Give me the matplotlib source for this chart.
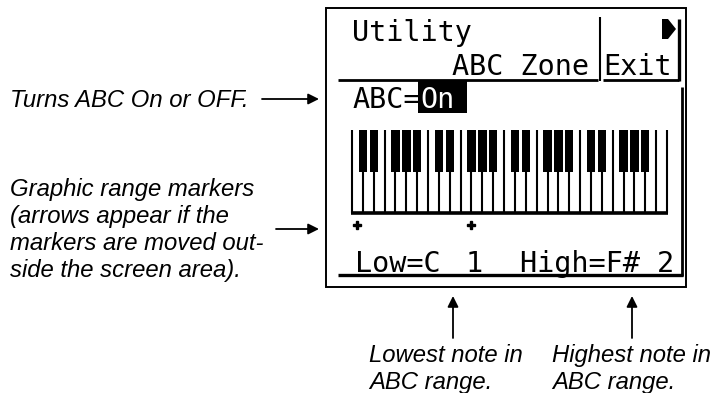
import matplotlib.pyplot as plt
from matplotlib.patches import Rectangle, Polygon

W, H = 717, 393

# LCD content
HEADER_TITLE = "Utility"
HEADER_PAGE = "ABC Zone"
SOFT_KEY = "Exit"
ABC_LABEL = "ABC="
ABC_STATE = "On"

# keyboard: 4 octaves plus a top C
WHITE_NOTES = ["C", "D", "E", "F", "G", "A", "B"]
OCTAVES = [1, 2, 3, 4]
SHARP_AFTER = ["C", "D", "F", "G", "A"]
LOW_NOTE = ("C", 1)
HIGH_NOTE = ("F#", 2)

# callout texts
LEFT_TOP = ["Turns ABC On or OFF."]
LEFT_BOTTOM = ["Graphic range markers", "(arrows appear if the",
               "markers are moved out-", "side the screen area)."]
BOTTOM_LOW = ["Lowest note in", "ABC range."]
BOTTOM_HIGH = ["Highest note in", "ABC range."]

LCD_FONT = dict(family="DejaVu Sans Mono", fontsize=20.5, color="black")
NOTE_FONT = dict(family=["Liberation Sans", "DejaVu Sans"], style="italic",
                 fontsize=17.2, color="black")

fig = plt.figure(figsize=(W / 100, H / 100), dpi=100)
ax = fig.add_axes([0, 0, 1, 1])
ax.set_xlim(0, W)
ax.set_ylim(H, 0)
ax.axis("off")


def line(xs, ys, lw=1.5):
    ax.plot(xs, ys, color="black", lw=lw, solid_capstyle="butt")


# outer frame of the screen
ax.add_patch(Rectangle((326, 8), 360, 279, fill=False, lw=1.4, ec="black"))

# header
ax.text(352, 41, HEADER_TITLE, va="baseline", **LCD_FONT)
ax.text(452, 75, HEADER_PAGE, va="baseline", **LCD_FONT)
ax.text(603, 75, SOFT_KEY, va="baseline", **LCD_FONT)
line([338, 598], [80, 80], lw=2)
line([603, 679], [80, 80], lw=2)
line([599.5, 599.5], [17, 81], lw=1.5)
line([678.5, 678.5], [19, 81], lw=2.4)
ax.add_patch(Polygon([(662, 19), (668, 19), (676, 29), (668, 39), (662, 39)],
                     closed=True, color="black", lw=0))

# ABC=On line
ax.text(352, 108, ABC_LABEL, va="baseline", **LCD_FONT)
ax.add_patch(Rectangle((418, 81), 49, 32, color="black", lw=0))
ax.text(420, 108, ABC_STATE, va="baseline", **{**LCD_FONT, "color": "white"})
line([682, 682], [87, 276], lw=2)

# keyboard
KB_LEFT, KB_RIGHT = 352, 667
KB_TOP, BLACK_BOTTOM, KB_BOTTOM = 130, 172, 213
white_keys = [(n, o) for o in OCTAVES for n in WHITE_NOTES] + [("C", OCTAVES[-1] + 1)]
kw = (KB_RIGHT - KB_LEFT) / len(white_keys)

for i in range(len(white_keys) + 1):
    x = KB_LEFT + i * kw
    line([x, x], [KB_TOP, KB_BOTTOM], lw=1.5)
line([KB_LEFT - 1, KB_RIGHT + 1], [KB_BOTTOM, KB_BOTTOM], lw=2.6)

for i, (n, o) in enumerate(white_keys[:-1]):
    if n in SHARP_AFTER:
        x = KB_LEFT + (i + 1) * kw
        ax.add_patch(Rectangle((x - 4.2, KB_TOP), 8.4, BLACK_BOTTOM - KB_TOP,
                               color="black", lw=0))


def key_x(note, octave):
    idx = white_keys.index((note[0], octave))
    if note.endswith("#"):
        return KB_LEFT + (idx + 1) * kw
    return KB_LEFT + (idx + 0.5) * kw


marks = [key_x(*LOW_NOTE), key_x(*HIGH_NOTE)]
ax.plot(marks, [225] * len(marks), ls="none", marker="P", ms=5.5,
        color="black", mec="black")

# range readout
ax.text(355, 272, f"Low={LOW_NOTE[0]}", va="baseline", **LCD_FONT)
ax.text(466, 272, str(LOW_NOTE[1]), va="baseline", **LCD_FONT)
ax.text(520, 272, f"High={HIGH_NOTE[0]} {HIGH_NOTE[1]}", va="baseline", **LCD_FONT)
line([338, 683], [275, 275], lw=2.4)

# callouts
arrow = dict(arrowstyle="-|>", color="black", lw=1.3, mutation_scale=16,
             shrinkA=0, shrinkB=0)
for k, s in enumerate(LEFT_TOP):
    ax.text(10, 107 + 27 * k, s, va="baseline", **NOTE_FONT)
for k, s in enumerate(LEFT_BOTTOM):
    ax.text(10, 196 + 27 * k, s, va="baseline", **NOTE_FONT)
for k, s in enumerate(BOTTOM_LOW):
    ax.text(369, 362 + 27 * k, s, va="baseline", **NOTE_FONT)
for k, s in enumerate(BOTTOM_HIGH):
    ax.text(552, 362 + 27 * k, s, va="baseline", **NOTE_FONT)

ax.annotate("", xy=(319, 99), xytext=(262, 99), arrowprops=arrow)
ax.annotate("", xy=(319, 229), xytext=(276, 229), arrowprops=arrow)
ax.annotate("", xy=(453, 296), xytext=(453, 338), arrowprops=arrow)
ax.annotate("", xy=(632, 296), xytext=(632, 338), arrowprops=arrow)

fig.savefig("out.png", dpi=100)
